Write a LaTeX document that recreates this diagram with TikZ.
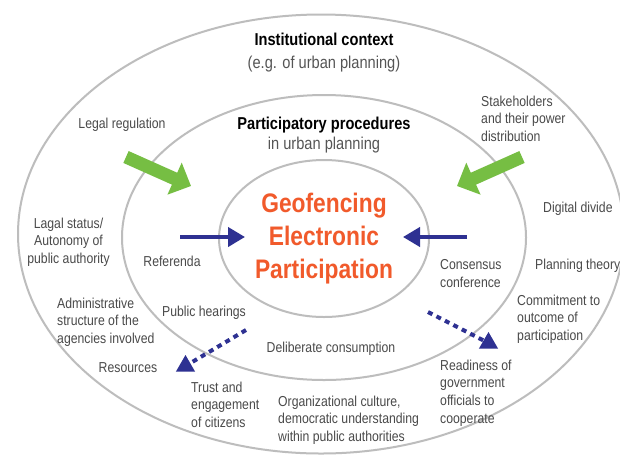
\documentclass[tikz,border=0pt]{standalone}
\usepackage{fontspec}
\setmainfont{Liberation Sans}[FakeStretch=0.85]
\usetikzlibrary{arrows.meta,shapes.geometric}
\definecolor{ringgray}{HTML}{BDBDBD}
\definecolor{lblgray}{HTML}{4A4A4A}
\definecolor{subgray}{HTML}{555555}
\definecolor{hot}{HTML}{F15A2B}
\definecolor{leaf}{HTML}{76BE43}
\definecolor{navy}{HTML}{2E3192}
\tikzset{
  ringline/.style={draw=ringgray, line width=2pt},
  lbl/.style={inner sep=0pt, text=lblgray, align=left, font=\fontsize{14.4}{17.8}\selectfont},
  lblc/.style={lbl, align=center},
  headb/.style={inner sep=0pt, text=black, font=\fontsize{17.2}{20}\selectfont\bfseries},
  heads/.style={inner sep=0pt, text=subgray, font=\fontsize{17.2}{20}\selectfont},
  bigarrow/.style={leaf, line width=13pt, -{Triangle[length=18pt,width=34pt]}},
  bluearrow/.style={navy, line width=4pt, -{Triangle[length=17pt,width=19pt]}},
  dotline/.style={navy, line width=4pt, dash pattern=on 5pt off 4.5pt},
  tri/.style={regular polygon, regular polygon sides=3, fill=navy, inner sep=0pt, minimum size=22pt}
}
\begin{document}
\begin{tikzpicture}[x=1pt,y=-1pt]
\useasboundingbox (0,0) rectangle (620,456);
\fill[white] (0,0) rectangle (620,456);
% rings
\draw[ringline] (321,234) ellipse [x radius=303pt, y radius=219.5pt];
\draw[ringline] (324,237.5) ellipse [x radius=202pt, y radius=142.5pt];
\draw[ringline] (324,238.5) ellipse [x radius=105pt, y radius=78.5pt];
% headings
\node[headb, anchor=base] (inst) at (324,45) {Institutional context};
\node[heads, anchor=base] (instsub) at (324,68) {(e.g. of urban planning)};
\node[headb, anchor=base] (part) at (324,129) {Participatory procedures};
\node[heads, anchor=base] (partsub) at (324,149) {in urban planning};
% centre
\node[inner sep=0pt, text=hot, align=center, anchor=north,
      font=\fontsize{26.8}{33}\selectfont\bfseries] (geo) at (324,192.5)
      {Geofencing\\Electronic\\Participation};
% labels
\node[lbl, anchor=base] (legal) at (122,128) {Legal regulation};
\node[lbl, anchor=north west] (stake) at (481,95.5) {Stakeholders\\and their power\\distribution};
\node[lbl, anchor=base west] (digital) at (543,212) {Digital divide};
\node[lblc, anchor=north] (lagal) at (68.5,217.5) {Lagal status/\\Autonomy of\\public authority};
\node[lbl, anchor=base] (referenda) at (172,266) {Referenda};
\node[lbl, anchor=north west] (consensus) at (440,259.5) {Consensus\\conference};
\node[lbl, anchor=base west] (planning) at (535,269) {Planning theory};
\node[lbl, anchor=north west] (commit) at (517,294.5) {Commitment to\\outcome of\\participation};
\node[lbl, anchor=north west] (admin) at (57,297.5) {Administrative\\structure of the\\agencies involved};
\node[lbl, anchor=base] (public) at (204,316) {Public hearings};
\node[lbl, anchor=base] (delib) at (331,352) {Deliberate consumption};
\node[lbl, anchor=base] (resources) at (128,372) {Resources};
\node[lbl, anchor=north west] (trust) at (191,381.5) {Trust and\\engagement\\of citizens};
\node[lbl, anchor=north west] (org) at (278,395.5) {Organizational culture,\\democratic understanding\\within public authorities};
\node[lbl, anchor=north west] (ready) at (440,359.5) {Readiness of\\government\\officials to\\cooperate};
% green arrows
\coordinate (gla) at (126,157);
\coordinate (glb) at (191,186);
\coordinate (gra) at (522,157);
\coordinate (grb) at (457,186);
\draw[bigarrow] (gla) -- (glb);
\draw[bigarrow] (gra) -- (grb);
% blue arrows
\coordinate (bla) at (180,237);
\coordinate (blb) at (245,237);
\coordinate (bra) at (467,237);
\coordinate (brb) at (403,237);
\draw[bluearrow] (bla) -- (blb);
\draw[bluearrow] (bra) -- (brb);
% dotted connectors with triangles
\node[tri] (tl) at (185.5,366) {};
\node[tri] (tr) at (488.5,343) {};
\coordinate (dla) at (246,330);
\coordinate (dra) at (428,312);
\draw[dotline] (dla) -- (tl);
\draw[dotline] (dra) -- (tr);
\end{tikzpicture}
\end{document}
